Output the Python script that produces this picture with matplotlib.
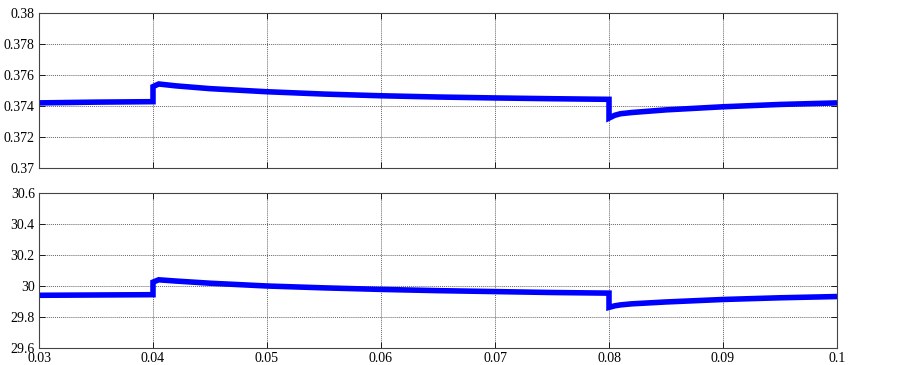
import matplotlib
matplotlib.use("Agg")
import matplotlib.pyplot as plt

t = [0.03, 0.035, 0.04, 0.04, 0.0405, 0.042, 0.045, 0.05, 0.055, 0.06, 0.065,
     0.07, 0.075, 0.08, 0.08, 0.0805, 0.081, 0.082, 0.085, 0.09, 0.095, 0.1]
top_vals = [0.37420, 0.37425, 0.37428, 0.37525, 0.37542, 0.37530, 0.37512, 0.37492,
            0.37477, 0.37466, 0.37458, 0.37452, 0.37447, 0.37443, 0.37322, 0.37340,
            0.37350, 0.37358, 0.37375, 0.37395, 0.37410, 0.37420]
bot_vals = [29.940, 29.942, 29.944, 30.025, 30.040, 30.032, 30.018, 30.000,
            29.988, 29.978, 29.970, 29.964, 29.958, 29.954, 29.862, 29.872,
            29.878, 29.885, 29.897, 29.913, 29.924, 29.932]

x_ticks = [0.03, 0.04, 0.05, 0.06, 0.07, 0.08, 0.09, 0.1]
x_labels = ["0.03", "0.04", "0.05", "0.06", "0.07", "0.08", "0.09", "0.1"]
top_ticks = [0.37, 0.372, 0.374, 0.376, 0.378, 0.38]
top_labels = ["0.37", "0.372", "0.374", "0.376", "0.378", "0.38"]
bot_ticks = [29.6, 29.8, 30.0, 30.2, 30.4, 30.6]
bot_labels = ["29.6", "29.8", "30", "30.2", "30.4", "30.6"]

plt.rcParams['font.family'] = ['Liberation Serif', 'DejaVu Serif']
plt.rcParams['font.size'] = 10

fig = plt.figure(figsize=(9.03, 3.65), dpi=100)
L, R = 39/903, 837/903
ax1 = fig.add_axes([L, 1-168/365, R-L, (168-13)/365])
ax2 = fig.add_axes([L, 1-348/365, R-L, (348-193)/365])

for ax, vals, yt, yl in [(ax1, top_vals, top_ticks, top_labels),
                         (ax2, bot_vals, bot_ticks, bot_labels)]:
    ax.plot(t, vals, color='#0000ff', linewidth=4.0, solid_joinstyle='miter',
            solid_capstyle='butt')
    ax.set_xlim(0.03, 0.1)
    ax.set_ylim(yt[0], yt[-1])
    ax.set_yticks(yt)
    ax.set_yticklabels(yl)
    ax.set_xticks(x_ticks)
    ax.grid(True, color='#666666', linestyle=(0, (1, 1)), linewidth=0.7)
    ax.tick_params(direction='in', length=4, width=0.6, pad=3, labelsize=10,
                   top=True, right=True)
    for s in ax.spines.values():
        s.set_linewidth(0.8)
        s.set_color('#444444')

ax1.set_xticklabels([])
ax2.set_xticklabels(x_labels)

fig.savefig("out.png", dpi=100)
